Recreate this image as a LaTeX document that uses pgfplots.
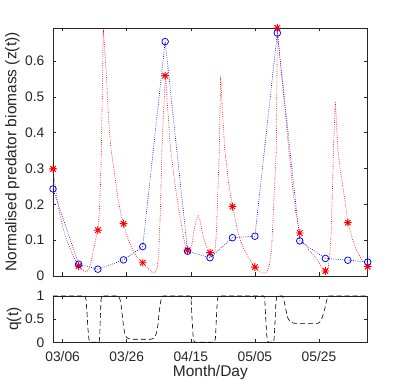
\documentclass[border=0pt]{standalone}
\usepackage{fontspec}
\setmainfont{Liberation Sans}
\usepackage{pgfplots}
\usepackage{pgfplotstable}
\pgfplotsset{compat=1.18}

\definecolor{axgray}{RGB}{38,38,38}

% MATLAB-like '*' marker: plus and cross on top of each other
\pgfdeclareplotmark{mstar}{%
  \pgfpathmoveto{\pgfqpoint{-\pgfplotmarksize}{0pt}}%
  \pgfpathlineto{\pgfqpoint{\pgfplotmarksize}{0pt}}%
  \pgfpathmoveto{\pgfqpoint{0pt}{-\pgfplotmarksize}}%
  \pgfpathlineto{\pgfqpoint{0pt}{\pgfplotmarksize}}%
  \pgfpathmoveto{\pgfqpoint{-.7071\pgfplotmarksize}{-.7071\pgfplotmarksize}}%
  \pgfpathlineto{\pgfqpoint{.7071\pgfplotmarksize}{.7071\pgfplotmarksize}}%
  \pgfpathmoveto{\pgfqpoint{-.7071\pgfplotmarksize}{.7071\pgfplotmarksize}}%
  \pgfpathlineto{\pgfqpoint{.7071\pgfplotmarksize}{-.7071\pgfplotmarksize}}%
  \pgfusepathqstroke}

% day 0 = 03/06; weekly samples
\pgfplotstableread{
day   blue   red
-3    0.243  0.299
5     0.033  0.028
11    0.019  0.128
19    0.045  0.146
25    0.082  0.037
32    0.654  0.559
39    0.069  0.072
46    0.051  0.065
53    0.107  0.194
60    0.111  0.025
67    0.678  0.692
74    0.098  0.120
82    0.049  0.014
89    0.044  0.149
95.2  0.039  0.026
}\samples

% model curve
\pgfplotstableread{
day   z
-3    0.299
-2    0.232
-1    0.178
0     0.138
1     0.108
2     0.084
3     0.063
4     0.044
5     0.028
6     0.018
7     0.013
7.5   0.012
8     0.016
8.5   0.027
9     0.045
9.5   0.066
10    0.088
10.5  0.110
11    0.130
11.4  0.170
11.8  0.250
12.1  0.350
12.4  0.520
12.7  0.690
12.9  0.664
13.65 0.561
14.4  0.430
15.1  0.355
16.2  0.285
17.3  0.215
18.2  0.172
19    0.146
20    0.115
21    0.090
22    0.071
23    0.056
24    0.045
25    0.037
26    0.027
27    0.018
28    0.010
28.8  0.009
29.5  0.020
30    0.060
30.5  0.180
31    0.352
31.5  0.460
32.1  0.565
32.6  0.490
33.7  0.352
35    0.260
36.6  0.166
38.1  0.091
39    0.070
39.7  0.063
40.4  0.090
41    0.128
41.7  0.158
42.3  0.168
42.9  0.155
43.5  0.125
44.2  0.100
44.9  0.082
45.6  0.072
46.2  0.065
47    0.056
47.5  0.065
48    0.120
48.5  0.250
48.9  0.352
49.3  0.557
49.8  0.470
50.6  0.352
51.8  0.260
53    0.194
54.8  0.119
56.3  0.080
57.9  0.054
59    0.037
60    0.026
61    0.015
62    0.009
63    0.008
63.8  0.012
64.5  0.030
65.2  0.073
65.7  0.166
66.2  0.260
66.7  0.352
67    0.692
67.6  0.630
68.3  0.560
69.4  0.465
70.6  0.352
71.6  0.260
72.7  0.180
74    0.120
75    0.097
76.2  0.080
77.5  0.066
78.75 0.054
79.8  0.040
80.8  0.026
81.5  0.017
82.2  0.012
82.8  0.020
83.3  0.050
83.8  0.120
84.2  0.240
84.5  0.352
85.1  0.487
85.9  0.352
86.6  0.300
87.4  0.250
88.1  0.210
89    0.149
90.2  0.110
91.25 0.082
92    0.066
92.8  0.054
94    0.038
95.2  0.026
}\zcurve

\pgfplotstableread{
day   q
-3    1
7.0   1
7.3   0.93
7.6   0.65
7.9   0.30
8.2   0.07
8.5   0.01
8.8   0
11.4  0
11.6  0.15
11.8  0.60
12.0  0.93
12.2  1
17.4  1
17.9  0.93
18.3  0.78
18.6  0.60
19.0  0.35
19.4  0.19
19.9  0.11
20.5  0.08
21.5  0.066
27.5  0.066
28.2  0.08
28.8  0.12
29.3  0.20
29.8  0.40
30.1  0.63
30.5  0.85
30.9  0.97
31.3  1
39.8  1
40.1  0.90
40.4  0.50
40.7  0.15
41.0  0.02
41.3  0
47.4  0
47.7  0.10
48.0  0.55
48.3  0.92
48.6  1
62.8  1
63.1  0.90
63.4  0.50
63.7  0.15
64.0  0.02
64.3  0
65.9  0
66.2  0.30
66.5  0.80
66.8  1
68.6  1
69.0  0.93
69.4  0.80
69.8  0.66
70.3  0.52
70.9  0.45
71.8  0.42
72.5  0.41
79.7  0.41
80.3  0.44
80.9  0.52
81.4  0.62
81.9  0.75
82.3  0.88
82.7  0.97
83.1  1
95.2  1
}\qcurve

\pgfplotsset{
  mlax/.style={
    scale only axis, width=314.7pt,
    xmin=-3, xmax=95.2,
    xtick={0,20,40,60,80},
    axis line style={axgray, line width=0.6pt},
    tick style={axgray, line width=0.6pt},
    major tick length=3.5pt,
    tick label style={font=\fontsize{13.8}{16}\selectfont, text=axgray, inner sep=0pt},
    label style={font=\fontsize{15.5}{18}\selectfont, text=axgray, inner sep=0pt},
    /pgf/number format/assume math mode=true,
    y tick label style={xshift=-8.5pt},
    x tick label style={yshift=-9pt},
  },
}

\begin{document}
\begin{tikzpicture}
\useasboundingbox (-53pt,-109pt) rectangle (354pt,276pt);

\begin{axis}[mlax,
    at={(0pt,0pt)}, anchor=south west,
    height=248pt,
    ymin=0, ymax=0.692,
    ytick={0,0.1,0.2,0.3,0.4,0.5,0.6},
    xticklabels={},
    ylabel={Normalised predator biomass (z(t))},
    ylabel style={at={(axis description cs:-0.1525,0.5)}, anchor=north},
]
\addplot[red, line width=0.6pt, dash pattern=on 0.8pt off 1.4pt]
  table[x=day, y=z] {\zcurve};
\addplot[red, only marks, mark=mstar, mark size=3.9pt,
  mark options={solid, line width=0.95pt}]
  table[x=day, y=red] {\samples};
\addplot[blue, line width=0.6pt, dash pattern=on 0.8pt off 1.4pt,
  mark=o, mark size=3.3pt, mark options={solid, line width=0.75pt}]
  table[x=day, y=blue] {\samples};
\end{axis}

\begin{axis}[mlax,
    at={(0pt,-66.3pt)}, anchor=south west,
    height=46.3pt,
    ymin=0, ymax=1,
    ytick={0,0.5,1},
    xticklabels={03/06,03/26,04/15,05/05,05/25},
    xlabel={Month/Day},
    xlabel style={at={(axis description cs:0.5,0)}, anchor=north, yshift=-22.5pt},
    ylabel={q(t)},
    ylabel style={at={(axis description cs:-0.147,0.5)}, anchor=north},
]
\addplot[black, line width=0.6pt, dash pattern=on 5pt off 3pt]
  table[x=day, y=q] {\qcurve};
\end{axis}
\end{tikzpicture}
\end{document}
